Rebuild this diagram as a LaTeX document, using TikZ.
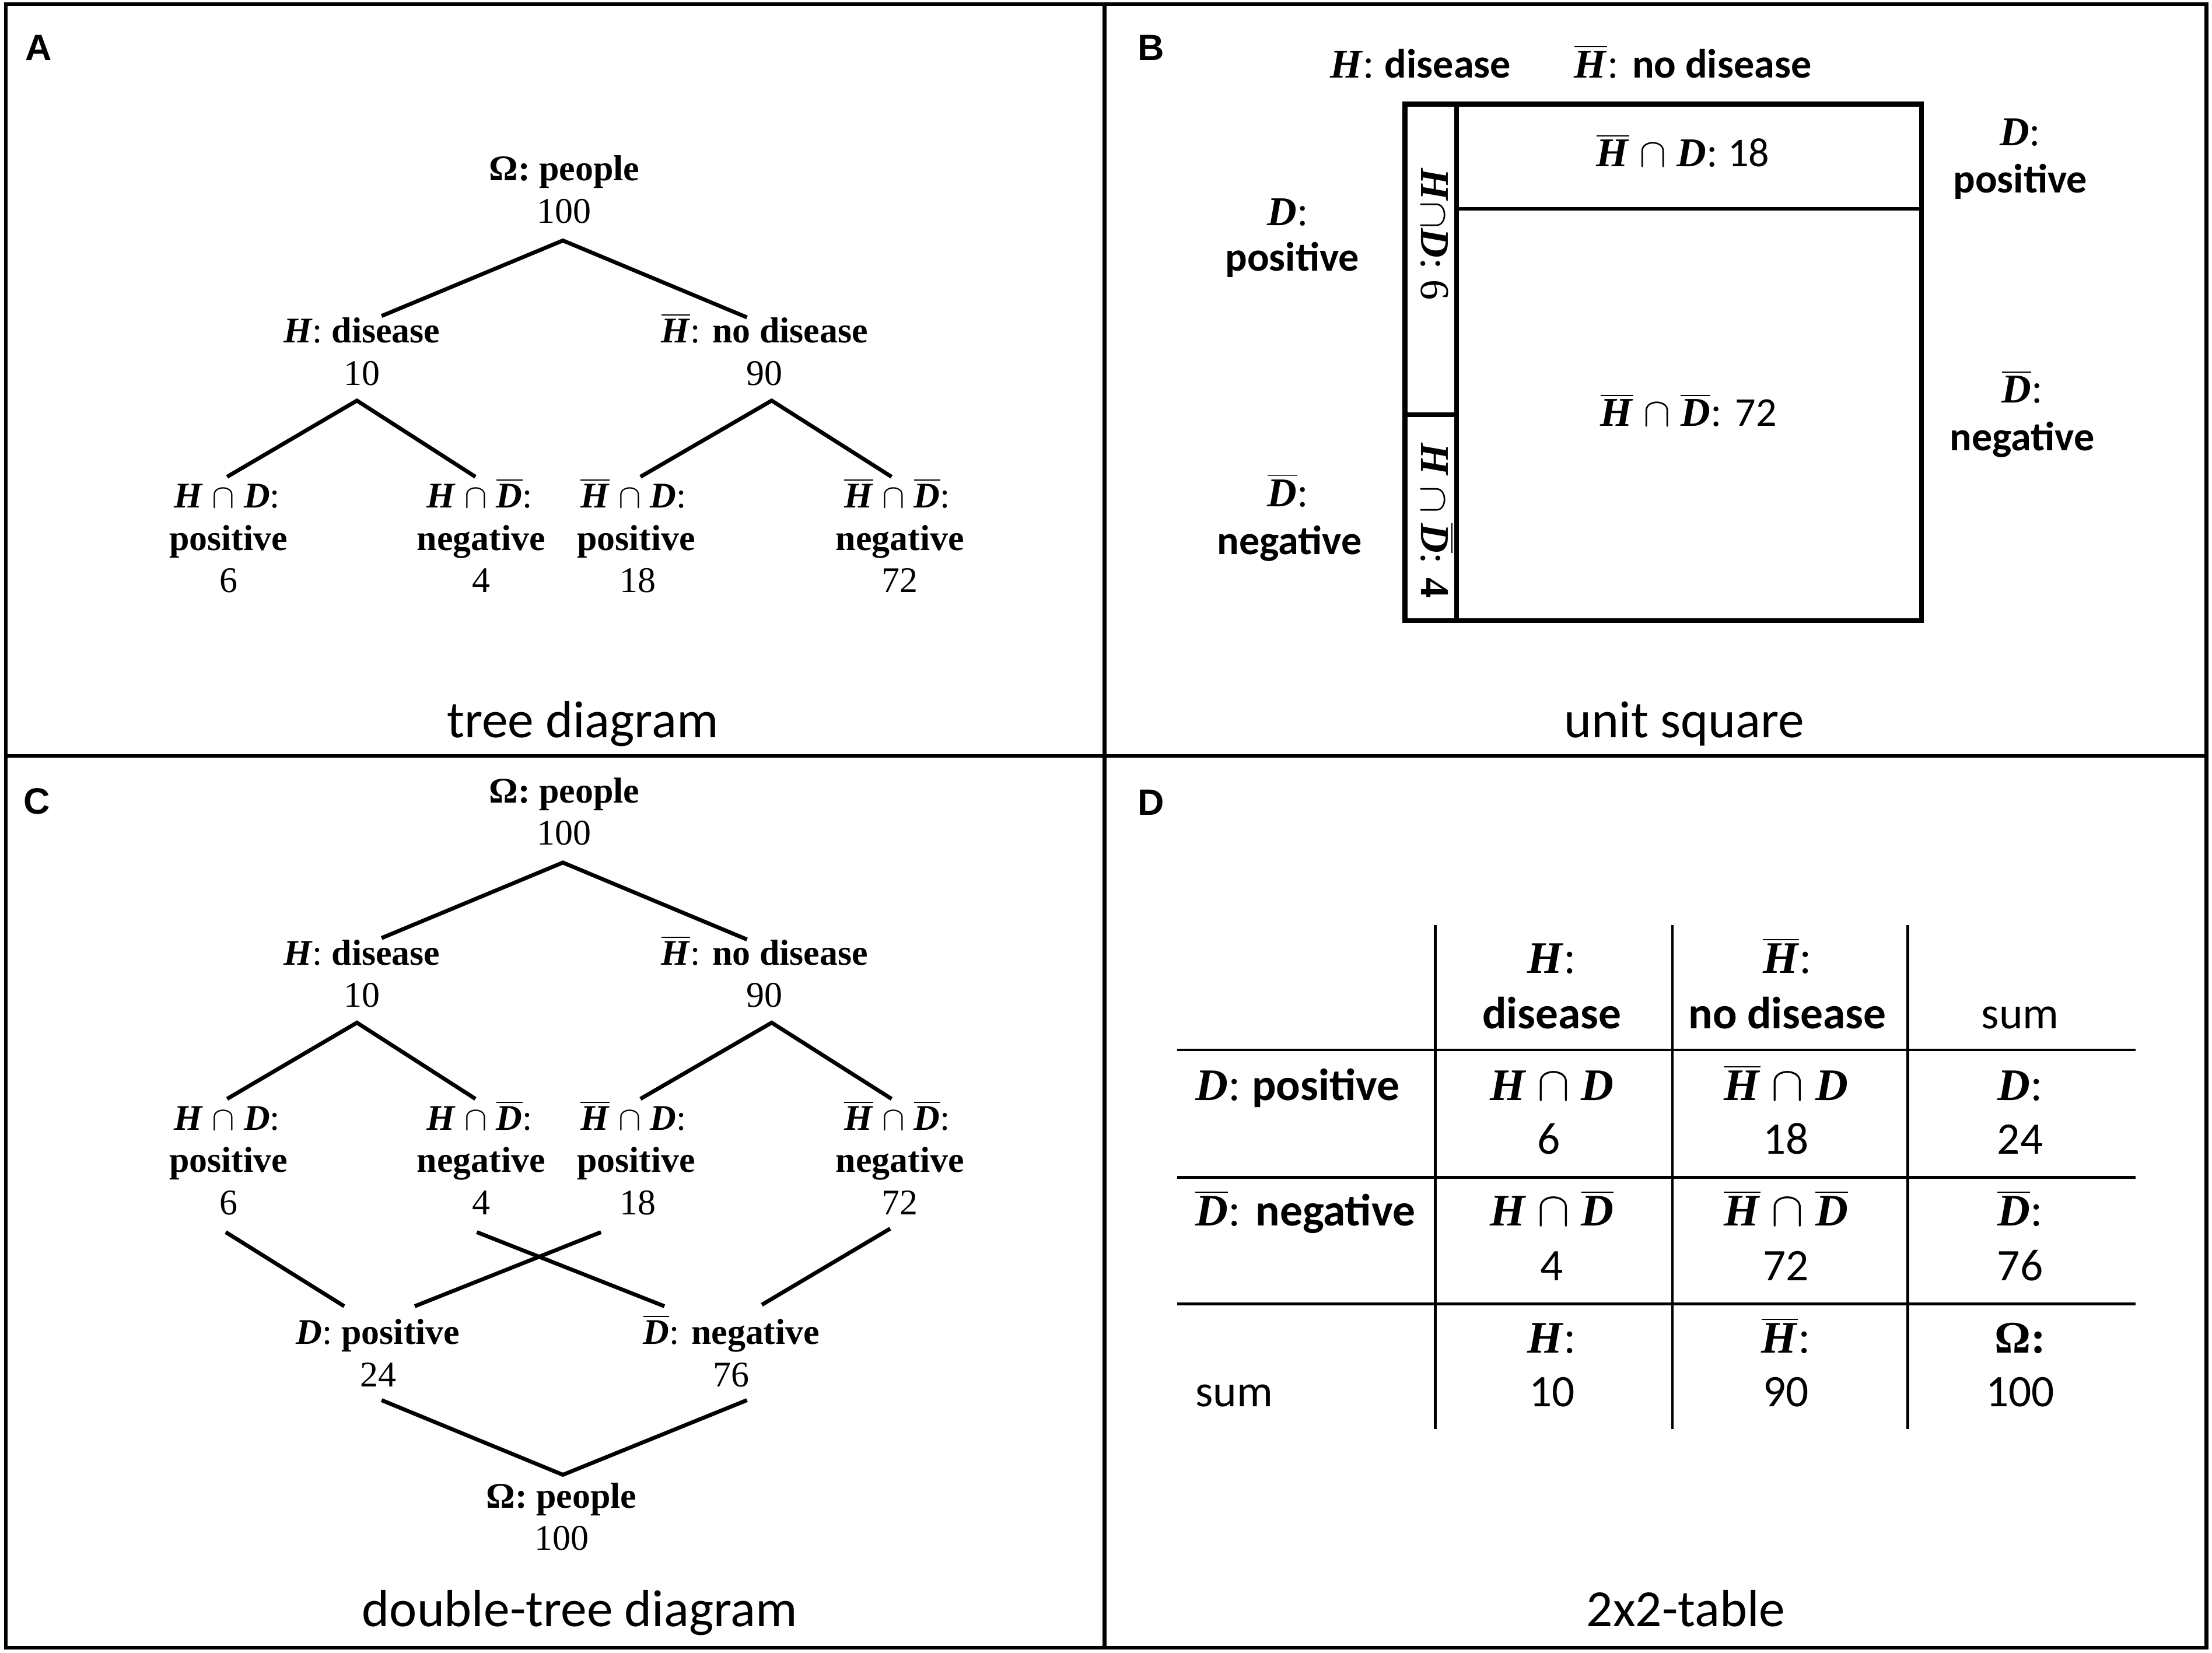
\documentclass[tikz,border=0pt]{standalone}
\usepackage{fontspec}
\setmainfont{Liberation Serif}
\newfontfamily\calfont{Carlito}
\newfontfamily\arfont{Liberation Sans}
\newcommand{\mH}{\textbf{\textit{H}}}
\newcommand{\mD}{\textbf{\textit{D}}}
\newcommand{\mHb}{$\overline{\hbox{\mH}}$}
\newcommand{\mDb}{$\overline{\hbox{\mD}}$}
\newcommand{\ncap}{$\cap$}
\newcommand{\treepart}[1]{%
  \node[trb] (#1r) at (400,122) {Ω: people};
  \node[tr] (#1rn) at (400,152) {100};
  \node[tr] (#1h) at (256.5,237) {\mH: \textbf{disease}};
  \node[tr] (#1hn) at (256.5,267) {10};
  \node[tr] (#1hb) at (542,237) {\mHb: \textbf{no disease}};
  \node[tr] (#1hbn) at (542,267) {90};
  \node[tr] (#1l1) at (161,354) {\mH{} \ncap{} \mD:};
  \node[trb] (#1l1t) at (162,384) {positive};
  \node[tr] (#1l1n) at (162,414) {6};
  \node[tr] (#1l2) at (340,354) {\mH{} \ncap{} \mDb:};
  \node[trb] (#1l2t) at (341,384) {negative};
  \node[tr] (#1l2n) at (341,414) {4};
  \node[tr] (#1l3) at (449,354) {\mHb{} \ncap{} \mD:};
  \node[trb] (#1l3t) at (451,384) {positive};
  \node[tr] (#1l3n) at (452,414) {18};
  \node[tr] (#1l4) at (636,354) {\mHb{} \ncap{} \mDb:};
  \node[trb] (#1l4t) at (638,384) {negative};
  \node[tr] (#1l4n) at (638,414) {72};
  \coordinate (#1r-d) at (399,170.5);
  \coordinate (#1h-u) at (270.5,224);
  \coordinate (#1hb-u) at (529.5,225);
  \coordinate (#1h-d) at (253,284);
  \coordinate (#1hb-d) at (547,284);
  \coordinate (#1l1-u) at (161,338);
  \coordinate (#1l2-u) at (337,338);
  \coordinate (#1l3-u) at (454,338);
  \coordinate (#1l4-u) at (632,338);
  \draw[edge] (#1h-u) -- (#1r-d) -- (#1hb-u);
  \draw[edge] (#1l1-u) -- (#1h-d) -- (#1l2-u);
  \draw[edge] (#1l3-u) -- (#1hb-d) -- (#1l4-u);
}
\begin{document}
\begin{tikzpicture}[x=0.5pt,y=-0.5pt,
  tr/.style={inner sep=0pt, font=\fontsize{12.8}{15}\selectfont, text height=8.5pt, text depth=2.5pt},
  trb/.style={tr, font=\fontsize{12.8}{15}\selectfont\bfseries},
  bt/.style={inner sep=0pt, font=\fontsize{14.5}{17}\selectfont, text height=10pt, text depth=3pt},
  dt/.style={inner sep=0pt, font=\fontsize{16}{19}\selectfont, text height=11pt, text depth=3pt},
  edge/.style={line width=1.4pt},
  tbl/.style={line width=1pt},
  capt/.style={inner sep=0pt, font=\calfont\fontsize{18.5}{22}\selectfont, text height=13pt, text depth=4pt},
  lab/.style={inner sep=0pt, font=\arfont\bfseries\fontsize{13}{15}\selectfont},
  frame/.style={line width=1.3pt}
]
\useasboundingbox (0,0) rectangle (1568,1171.45);
% frame
\draw[frame] (4,3) rectangle (1564,1168);
\draw[frame] (783,3) -- (783,1168);
\draw[frame] (4,536) -- (1564,536);
% panel letters
\node[lab] (labA) at (27.5,34) {A};
\node[lab] (labB) at (816,34) {B};
\node[lab] (labC) at (26,568) {C};
\node[lab] (labD) at (816,569) {D};
% captions
\node[capt] (capA) at (413,514) {tree diagram};
\node[capt] (capB) at (1194,514) {unit square};
\node[capt] (capC) at (411,1144) {double-tree diagram};
\node[capt] (capD) at (1195,1144) {2x2-table};
% panel A
\treepart{a}
% panel C
\begin{scope}[yshift=-220.5pt]
\treepart{c}
\end{scope}
\node[tr] (cdp) at (268,947) {\mD: \textbf{positive}};
\node[tr] (cdpn) at (268,977) {24};
\node[tr] (cdn) at (518.5,947) {\mDb: \textbf{negative}};
\node[tr] (cdnn) at (518.5,977) {76};
\node[trb] (cz) at (398,1063) {Ω: people};
\node[tr] (czn) at (398,1093) {100};
\coordinate (cl1-d) at (160,873.5);
\coordinate (cl2-d) at (338,873.5);
\coordinate (cl3-d) at (426,873.5);
\coordinate (cl4-d) at (631,871);
\coordinate (cdp-u1) at (244,926);
\coordinate (cdp-u2) at (294,926);
\coordinate (cdn-u1) at (471,926);
\coordinate (cdn-u2) at (540,925);
\coordinate (cdp-d) at (270.5,992.6);
\coordinate (cdn-d) at (529.5,992.6);
\coordinate (cz-u) at (399,1045.5);
\draw[edge] (cl1-d) -- (cdp-u1);
\draw[edge] (cl3-d) -- (cdp-u2);
\draw[edge] (cl2-d) -- (cdn-u1);
\draw[edge] (cl4-d) -- (cdn-u2);
\draw[edge] (cdp-d) -- (cz-u) -- (cdn-d);
% panel B
\draw[line width=1.8pt] (996,73.7) rectangle (1362,440);
\draw[line width=1.6pt] (1032.5,73.7) -- (1032.5,440);
\draw[line width=1.3pt] (1032.5,148) -- (1362,148);
\draw[line width=1.5pt] (996,294) -- (1032.5,294);
\node[bt] (bh) at (1007,48) {\mH: {\calfont\bfseries disease}};
\node[bt] (bhb) at (1200,48) {\mHb: {\calfont\bfseries no disease}};
\node[bt] (bc1) at (1193,111) {\mHb{} \ncap{} \mD: {\calfont 18}};
\node[bt] (bc2) at (1197,295) {\mHb{} \ncap{} \mDb: {\calfont 72}};
\node[bt, rotate=-90] (bs1) at (1014.5,166) {\mH\ncap\mD: 6};
\node[bt, rotate=-90] (bs2) at (1014.5,369) {\mH{} \ncap{} \mDb: \textbf{4}};
\node[bt] (bl1) at (913,153) {\mD:};
\node[bt] (bl1t) at (916,185) {\calfont\bfseries positive};
\node[bt] (bl2) at (913,352) {\mDb:};
\node[bt] (bl2t) at (914,386) {\calfont\bfseries negative};
\node[bt] (br1) at (1432,96) {\mD:};
\node[bt] (br1t) at (1432,129.5) {\calfont\bfseries positive};
\node[bt] (br2) at (1433.5,278.5) {\mDb:};
\node[bt] (br2t) at (1433.5,312.5) {\calfont\bfseries negative};
% panel D
\draw[tbl] (1017.5,655.6) -- (1017.5,1013);
\draw[tbl] (1185.5,655.6) -- (1185.5,1013);
\draw[tbl] (1352.5,655.6) -- (1352.5,1013);
\draw[tbl] (834.3,744.3) -- (1514,744.3);
\draw[tbl] (834.3,834.7) -- (1514,834.7);
\draw[tbl] (834.3,924.2) -- (1514,924.2);
\node[dt] (dh1a) at (1100,682) {\mH:};
\node[dt] (dh1b) at (1100,721) {\calfont\bfseries disease};
\node[dt] (dh2a) at (1267,682) {\mHb:};
\node[dt] (dh2b) at (1267,721) {\calfont\bfseries no disease};
\node[dt] (dh3) at (1432,721) {\calfont sum};
\node[dt, anchor=west] (dr1) at (847,772) {\mD: {\calfont\bfseries positive}};
\node[dt] (d11a) at (1100,772) {\mH{} \ncap{} \mD};
\node[dt] (d11b) at (1098,810) {\calfont 6};
\node[dt] (d12a) at (1266,772) {\mHb{} \ncap{} \mD};
\node[dt] (d12b) at (1266,810) {\calfont 18};
\node[dt] (d13a) at (1432,772) {\mD:};
\node[dt] (d13b) at (1432,810) {\calfont 24};
\node[dt, anchor=west] (dr2) at (847,861) {\mDb:{} {\calfont\bfseries negative}};
\node[dt] (d21a) at (1100,861) {\mH{} \ncap{} \mDb};
\node[dt] (d21b) at (1100,900) {\calfont 4};
\node[dt] (d22a) at (1266,861) {\mHb{} \ncap{} \mDb};
\node[dt] (d22b) at (1266,900) {\calfont 72};
\node[dt] (d23a) at (1432,861) {\mDb:};
\node[dt] (d23b) at (1432,900) {\calfont 76};
\node[dt, anchor=west] (dr3) at (847,989) {\calfont sum};
\node[dt] (d31a) at (1100,951) {\mH:};
\node[dt] (d31b) at (1100,989) {\calfont 10};
\node[dt] (d32a) at (1266,951) {\mHb:};
\node[dt] (d32b) at (1266,989) {\calfont 90};
\node[dt] (d33a) at (1432,951) {\textbf{Ω:}};
\node[dt] (d33b) at (1432,989) {\calfont 100};
\end{tikzpicture}
\end{document}
